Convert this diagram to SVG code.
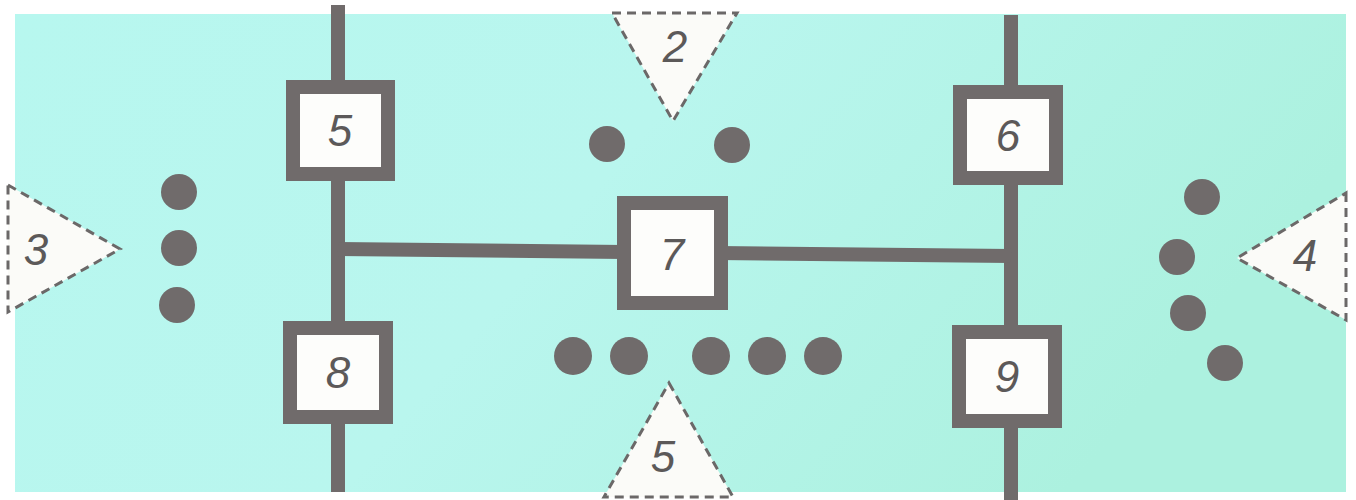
<svg xmlns="http://www.w3.org/2000/svg" width="1356" height="500" viewBox="0 0 1356 500">
<defs>
<linearGradient id="bg" x1="0" y1="0" x2="1" y2="0.3">
<stop offset="0" stop-color="#b7f7ef"/>
<stop offset="0.5" stop-color="#b9f6ee"/>
<stop offset="1" stop-color="#acf1df"/>
</linearGradient>
<style>
.wire{stroke:#706b6b;stroke-width:14;fill:none;stroke-linecap:butt}
.box{fill:#fdfdfb;stroke:#706b6b;stroke-width:14}
.tri{fill:#fbfbf8;stroke:#6b6868;stroke-width:3;stroke-dasharray:9 6;stroke-linejoin:miter}
.dot{fill:#706b6b}
.lbl{font-family:"Liberation Sans","DejaVu Sans",sans-serif;font-size:44px;fill:#5c5959;text-anchor:middle;font-style:italic}
</style>
</defs>
<rect x="0" y="0" width="1356" height="500" fill="#ffffff"/>
<rect x="15" y="14" width="1331" height="478" fill="url(#bg)"/>
<g id="connectors">
<line class="wire" x1="338" y1="5" x2="338" y2="492"/>
<line class="wire" x1="1011" y1="15" x2="1011" y2="500"/>
<line class="wire" x1="338" y1="249" x2="1011" y2="256"/>
</g>
<g id="node-box5"><rect class="box" x="293" y="87" width="95" height="87"/><text class="lbl" x="340" y="146">5</text></g>
<g id="node-box6"><rect class="box" x="960" y="92" width="96" height="86"/><text class="lbl" x="1008" y="151">6</text></g>
<g id="node-box7"><rect class="box" x="624" y="203" width="97" height="100"/><text class="lbl" x="672" y="270">7</text></g>
<g id="node-box8"><rect class="box" x="290" y="328" width="96" height="89"/><text class="lbl" x="338" y="388">8</text></g>
<g id="node-box9"><rect class="box" x="959" y="332" width="96" height="89"/><text class="lbl" x="1007" y="392">9</text></g>
<g id="node-tri2"><polygon class="tri" points="612,13 737,13 673,121"/><text class="lbl" x="675" y="62">2</text></g>
<g id="node-tri5"><polygon class="tri" points="669,383 733,497 604,497"/><text class="lbl" x="663" y="472">5</text></g>
<g id="node-tri3"><polygon class="tri" points="8,185 120,249 8,312"/><text class="lbl" x="36" y="265">3</text></g>
<g id="node-tri4"><polygon class="tri" points="1346,193 1346,320 1237,258"/><text class="lbl" x="1305" y="271">4</text></g>
<g id="dots">
<circle class="dot" cx="607" cy="144" r="18"/>
<circle class="dot" cx="732" cy="145" r="18"/>
<circle class="dot" cx="179" cy="192" r="18"/>
<circle class="dot" cx="179" cy="248" r="18"/>
<circle class="dot" cx="177" cy="305" r="18"/>
<circle class="dot" cx="573" cy="356" r="19"/>
<circle class="dot" cx="629" cy="356" r="19"/>
<circle class="dot" cx="711" cy="356" r="19"/>
<circle class="dot" cx="767" cy="356" r="19"/>
<circle class="dot" cx="823" cy="356" r="19"/>
<circle class="dot" cx="1202" cy="197" r="18"/>
<circle class="dot" cx="1177" cy="257" r="18"/>
<circle class="dot" cx="1188" cy="313" r="18"/>
<circle class="dot" cx="1225" cy="363" r="18"/>
</g>
</svg>
